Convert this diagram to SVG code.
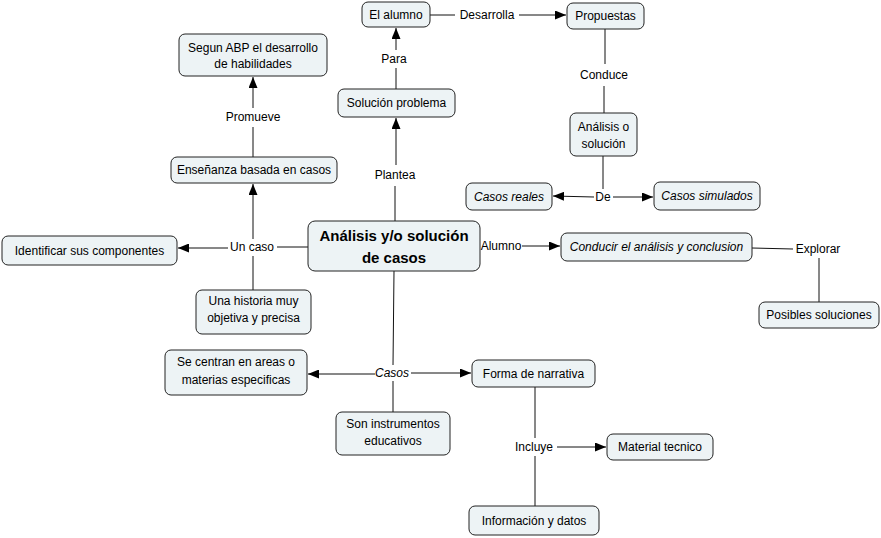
<svg xmlns="http://www.w3.org/2000/svg" width="881" height="538" viewBox="0 0 881 538">
<defs>
<marker id="arr" markerWidth="11" markerHeight="9" refX="11" refY="4.5" orient="auto" markerUnits="userSpaceOnUse">
<path d="M0,0 L11,4.5 L0,9 z" fill="#000"/>
</marker>
<style>
rect.n{fill:#edf3f5;stroke:#222;stroke-width:1;}
text{font-family:"Comic Sans MS","Liberation Sans",Arial,sans-serif;font-size:12px;fill:#000;text-anchor:middle;}
text.b{font-size:15px;font-weight:bold;}
text.i{font-style:italic;}
#connectors path{fill:none;stroke:#111;stroke-width:1;}
#connectors path.a{marker-end:url(#arr);}
</style>
</defs>
<rect width="881" height="538" fill="#fff"/>
<g id="connectors">
<path d="M395,221 L395,186"/><path class="a" d="M396,165 L396,118"/>
<path d="M396,89 L396,68"/><path class="a" d="M396,50 L396,28"/>
<path d="M430,15 L455,15"/><path class="a" d="M519,15 L566,15"/>
<path d="M605,29 L605,64"/><path d="M604,86 L604,113"/>
<path d="M603,156 L603,189"/><path class="a" d="M594,197 L553,196"/><path class="a" d="M613,197 L653,197"/>
<path d="M308,247 L277,247"/><path class="a" d="M228,248 L178,248"/><path class="a" d="M253,239 L253,184"/><path d="M253,256 L253,290"/>
<path d="M253,157 L253,127"/><path class="a" d="M253,108 L253,77"/>
<path class="a" d="M522,246 L560,246"/>
<path d="M752,248 L793,249"/><path d="M819,258 L819,302"/>
<path d="M394,271 L393,365"/><path class="a" d="M375,374 L308,374"/><path class="a" d="M411,373 L471,373"/><path d="M393,381 L393,412"/>
<path d="M535,387 L535,438"/><path class="a" d="M557,447 L606,447"/><path d="M535,456 L535,506"/>
</g>
<g id="labels">
<text x="394" y="63">Para</text>
<text x="487" y="19">Desarrolla</text>
<text x="604" y="79">Conduce</text>
<text x="603" y="201">De</text>
<text x="395" y="179">Plantea</text>
<text x="253" y="121">Promueve</text>
<text x="252" y="251">Un caso</text>
<text x="501" y="250">Alumno</text>
<text x="818" y="253">Explorar</text>
<text x="392" y="377" class="i">Casos</text>
<text x="534" y="451">Incluye</text>
</g>
<g id="n-alumno"><rect class="n" x="362" y="2" width="68" height="25" rx="6"/><text x="396" y="19">El alumno</text></g>
<g id="n-propuestas"><rect class="n" x="567" y="3" width="77" height="26" rx="6"/><text x="605.5" y="20">Propuestas</text></g>
<g id="n-abp"><rect class="n" x="179" y="34" width="148" height="42" rx="6"/><text x="253" y="52">Segun ABP el desarrollo</text><text x="253" y="68">de habilidades</text></g>
<g id="n-solucion"><rect class="n" x="338" y="89" width="117" height="28" rx="6"/><text x="396.5" y="107">Solución problema</text></g>
<g id="n-analisis"><rect class="n" x="570" y="113" width="67" height="43" rx="6"/><text x="603.5" y="131">Análisis o</text><text x="603.5" y="148">solución</text></g>
<g id="n-ensenanza"><rect class="n" x="171" y="157" width="166" height="26" rx="6"/><text x="254" y="174">Enseñanza basada en casos</text></g>
<g id="n-reales"><rect class="n" x="466" y="183" width="86" height="27" rx="6"/><text x="509" y="200.5" class="i">Casos reales</text></g>
<g id="n-simulados"><rect class="n" x="654" y="182" width="106" height="28" rx="6"/><text x="707" y="200" class="i">Casos simulados</text></g>
<g id="n-central"><rect class="n" x="308" y="221" width="172" height="50" rx="7"/><text x="394" y="241" class="b">Análisis y/o solución</text><text x="394" y="263" class="b">de casos</text></g>
<g id="n-identificar"><rect class="n" x="2" y="236" width="175" height="29" rx="6"/><text x="89.5" y="254.5">Identificar sus componentes</text></g>
<g id="n-conducir"><rect class="n" x="561" y="233" width="191" height="28" rx="6"/><text x="656.5" y="251" class="i">Conducir el análisis y conclusion</text></g>
<g id="n-posibles"><rect class="n" x="759" y="302" width="120" height="26" rx="6"/><text x="819" y="319">Posibles soluciones</text></g>
<g id="n-historia"><rect class="n" x="196" y="290" width="115" height="44" rx="6"/><text x="253.5" y="305">Una historia muy</text><text x="253.5" y="322">objetiva y precisa</text></g>
<g id="n-centran"><rect class="n" x="165" y="350" width="142" height="45" rx="6"/><text x="236" y="366">Se centran en areas o</text><text x="236" y="384">materias especificas</text></g>
<g id="n-narrativa"><rect class="n" x="472" y="360" width="123" height="27" rx="6"/><text x="533.5" y="377.5">Forma de narrativa</text></g>
<g id="n-instrumentos"><rect class="n" x="336" y="412" width="114" height="43" rx="6"/><text x="393" y="428">Son instrumentos</text><text x="393" y="445">educativos</text></g>
<g id="n-material"><rect class="n" x="607" y="434" width="106" height="26" rx="6"/><text x="660" y="451">Material tecnico</text></g>
<g id="n-informacion"><rect class="n" x="469" y="506" width="130" height="29" rx="6"/><text x="534" y="524.5">Información y datos</text></g>
</svg>
